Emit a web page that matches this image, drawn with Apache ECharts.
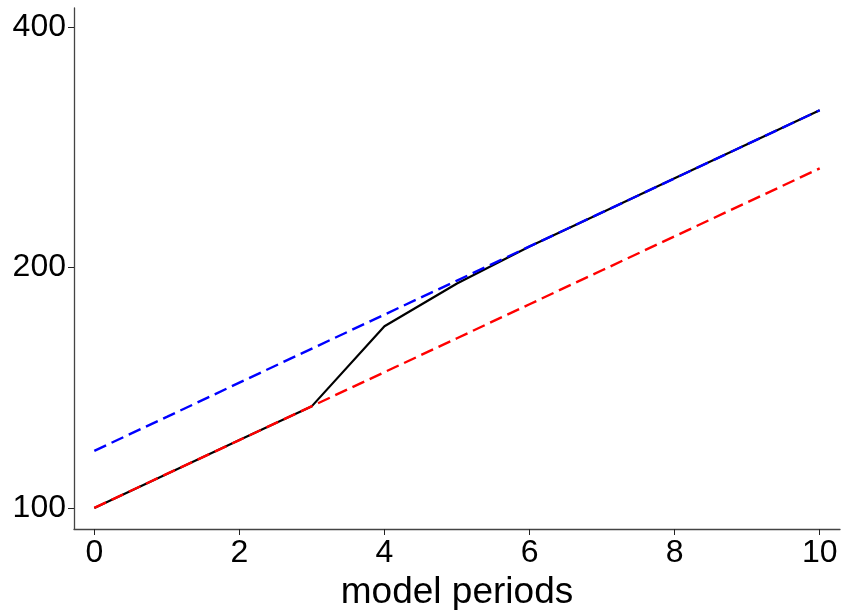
<!DOCTYPE html>
<html>
<head>
<meta charset="utf-8">
<script src="https://cdn.jsdelivr.net/npm/echarts@6/dist/echarts.min.js"></script>
<style>
  html, body { margin: 0; padding: 0; background: #fff; }
  #main { width: 841px; height: 610px; }
</style>
</head>
<body>
<div id="main"></div>
<script>
// model periods
var periods = [0, 1, 2, 3, 4, 5, 6, 7, 8, 9, 10];
// actual path (solid black)
var actual = [100, 110.3, 121.6, 134.1, 168.8, 191, 212.5, 234.4, 258.6, 285.3, 314.7];
// upper trend (blue dashed)
var upper = [117.9, 130, 143.5, 158.3, 174.6, 192.6, 212.5, 234.4, 258.6, 285.3, 314.7];
// lower trend (red dashed)
var lower = [100, 110.3, 121.6, 134.1, 147.9, 163.1, 179.9, 198.4, 218.8, 241.3, 266.1];
var xTicks = [0, 2, 4, 6, 8, 10];
var yTicks = [100, 200, 400];

function pairs(ys) {
    return periods.map(function (p, i) { return [p, ys[i]]; });
}

var chart = echarts.init(document.getElementById('main'));
var labelFont = { fontFamily: 'Liberation Sans, Arial, sans-serif', fontSize: 32, color: '#000' };

var option = {
    animation: false,
    backgroundColor: '#fff',
    grid: { left: 74, right: 1, top: 8, bottom: 81, containLabel: false, outerBoundsMode: 'none' },
    xAxis: {
        type: 'value',
        min: -0.28,
        max: 10.28,
        name: 'model periods',
        nameLocation: 'middle',
        nameGap: 42,
        nameTextStyle: { fontFamily: 'Liberation Sans, Arial, sans-serif', fontSize: 37, color: '#000', verticalAlign: 'top' },
        axisLine: { onZero: false, lineStyle: { color: '#444', width: 1.3 } },
        axisTick: { show: true, length: 6, inside: false, lineStyle: { color: '#222' }, customValues: xTicks },
        axisLabel: Object.assign({ margin: 8, customValues: xTicks }, labelFont),
        splitLine: { show: false }
    },
    yAxis: {
        type: 'log',
        logBase: 2,
        min: 94.1,
        max: 422.6,
        axisLine: { show: true, onZero: false, lineStyle: { color: '#444', width: 1.3 } },
        axisTick: { show: true, length: 6, inside: false, lineStyle: { color: '#222' }, customValues: yTicks },
        axisLabel: Object.assign({ margin: 8, customValues: yTicks }, labelFont),
        splitLine: { show: false }
    },
    series: [
        {
            name: 'actual',
            type: 'line',
            data: pairs(actual),
            symbol: 'none',
            lineStyle: { color: '#000', width: 2.2 },
            z: 1
        },
        {
            name: 'upper',
            type: 'line',
            data: pairs(upper),
            symbol: 'none',
            lineStyle: { color: '#0000ff', width: 2.4, type: [13, 6] },
            z: 2
        },
        {
            name: 'lower',
            type: 'line',
            data: pairs(lower),
            symbol: 'none',
            lineStyle: { color: '#ff0000', width: 2.4, type: [13, 6] },
            z: 3
        }
    ]
};
chart.setOption(option);
</script>
</body>
</html>
